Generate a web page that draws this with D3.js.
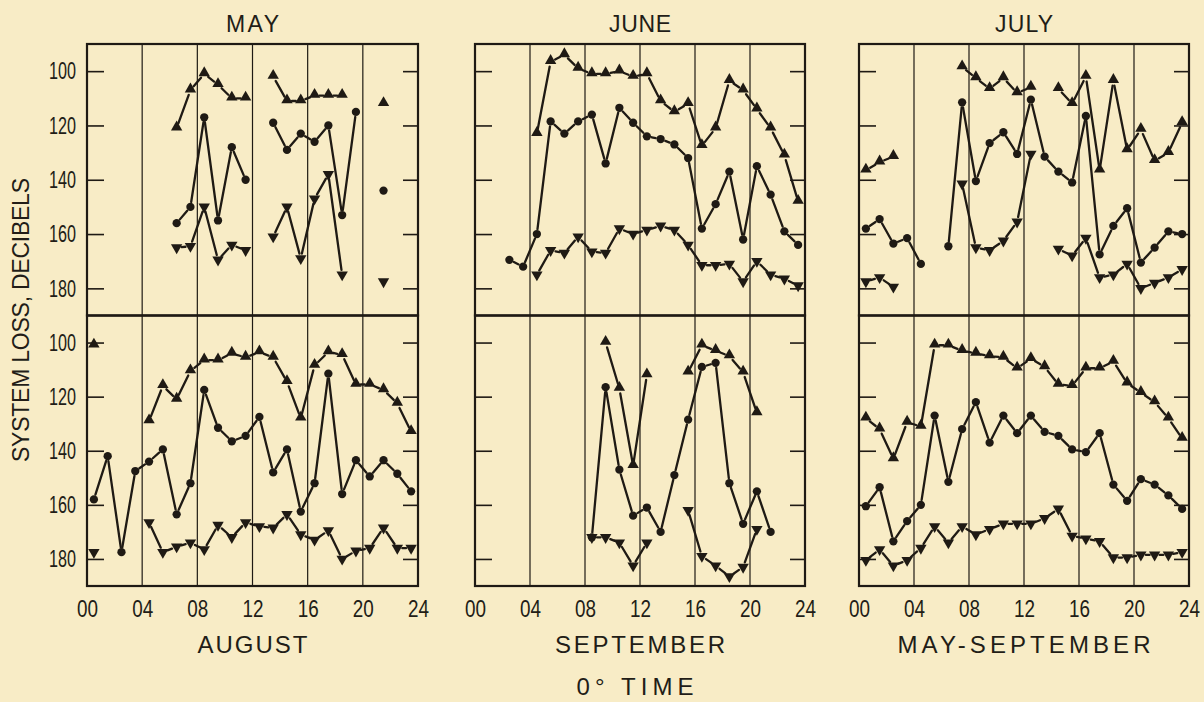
<!DOCTYPE html>
<html>
<head>
<meta charset="utf-8">
<script src="https://cdn.jsdelivr.net/npm/d3@7"></script>
<style>
  body { margin: 0; background: #f8ecc6; }
  text { font-family: 'Liberation Sans', Arial, sans-serif; fill: #221d17; }
</style>
</head>
<body>
<div class="result"></div>
<script>
// Hour of day for each reading (half-hour centres, 0° time)
const hours = [0.5, 1.5, 2.5, 3.5, 4.5, 5.5, 6.5, 7.5, 8.5, 9.5, 10.5, 11.5,
  12.5, 13.5, 14.5, 15.5, 16.5, 17.5, 18.5, 19.5, 20.5, 21.5, 22.5, 23.5];

// Axis ticks
const yTicks = [100, 120, 140, 160, 180];
const xTicks = [0, 4, 8, 12, 16, 20, 24];
const xTickLabels = ['00', '04', '08', '12', '16', '20', '24'];
const gridHours = [4, 8, 12, 16, 20];

// Panel titles
const topTitles = ['MAY', 'JUNE', 'JULY'];
const bottomTitles = ['AUGUST', 'SEPTEMBER', 'MAY-SEPTEMBER'];

// System loss, dB  (up = ▲, mid = ●, low = ▼), null = no reading
const mayUp = [null, null, null, null, null, null, 121, 107, 101, 105, 110, 110, null, 102, 111, 111, 109, 109, 109, null, null, 112, null, null];
const mayMid = [null, null, null, null, null, null, 156, 150, 117, 155, 128, 140, null, 119, 129, 123, 126, 120, 153, 115, null, 144, null, null];
const mayLow = [null, null, null, null, null, null, 165, 164.5, 150, 169.5, 164, 166, null, 161, 150, 169, 147, 138, 175, null, null, 177.5, null, null];

const juneUp = [null, null, null, null, 123, 96.5, 94, 99, 101, 101, 100, 102, 101, 111, 115, 112, 127.5, 121, 103.5, 107, 114, 121, 131, 148];
const juneMid = [null, null, 169.5, 172, 160, 118.5, 123, 118.5, 116, 134, 113.5, 119, 124, 125, 127, 132, 158, 149, 137, 162, 135, 145.5, 159, 164];
const juneLow = [null, null, null, null, 175, 166, 167, 161, 166.5, 167, 158, 160, 158.5, 157, 158.5, 164, 171.5, 171.5, 171, 177.5, 170, 175, 176.5, 179];

const julyUp = [136.5, 133.5, 131.5, null, null, null, null, 98.5, 102.5, 106.5, 102.5, 108, 106, null, 106.5, 112, 102, 136.5, 103.5, 129, 121.5, 133, 130, 119];
const julyMid = [158, 154.5, 163.5, 161.5, 171, null, 164.5, 111.5, 140.5, 126.5, 122.5, 130.5, 110.5, 131.5, 137, 141, 116.5, 167.5, 157, 150.5, 170.5, 165, 159, 160];
const julyLow = [177.5, 176, 179.5, null, null, null, null, 141.5, 165, 166, 162.5, 155.5, 130.5, null, 165.5, 168, 161.5, 176, 175, 171, 180, 178, 176, 173];

const augUp = [101, null, null, null, 129, 116, 121, 110.5, 106.5, 106.5, 104, 105.5, 103.5, 105.5, 114.5, 128, 108.5, 103.5, 104.5, 115.5, 115.5, 117.5, 122.5, 133];
const augMid = [158, 142, 177.5, 147.5, 144, 139.5, 163.5, 152, 117.5, 131.5, 136.5, 134.5, 127.5, 148, 139.5, 162.5, 152, 111.5, 156, 143.5, 149.5, 143.5, 148.5, 155];
const augLow = [177.5, null, null, null, 166.5, 177.5, 175.5, 174, 176.5, 167.5, 172, 166.5, 168, 168.5, 163.5, 171, 173, 169.5, 180, 177, 176, 168.5, 176, 176];

const sepUp = [null, null, null, null, null, null, null, null, null, 100, 117, 145.5, 112, null, null, 111, 101, 103, 105, 111, 126, null, null, null];
const sepMid = [null, null, null, null, null, null, null, null, 172, 116.5, 147, 164, 161, 170, 149, 128.5, 109, 107.5, 152, 167, 155, 170, null, null];
const sepLow = [null, null, null, null, null, null, null, null, 172, 172, 174, 182.5, 174, null, null, 162, 179, 182.5, 186.5, 183, 169, null, null, null];

const allUp = [128, 132, 143, 129.5, 131, 101, 101, 103, 104, 105, 105.5, 109.5, 106, 109, 115.5, 116, 109.5, 109.5, 107, 115, 118.5, 122, 128, 135.5];
const allMid = [160.5, 153.5, 173.5, 166, 160, 127, 151.5, 132, 122, 137, 127, 133.5, 127, 133, 134.5, 139.5, 140.5, 133.5, 152.5, 158.5, 150.5, 152.5, 156.5, 161.5];
const allLow = [180.5, 176.5, 182.5, 180.5, 176, 168, 174, 168, 171, 169, 167, 167, 167, 165, 161.5, 171.5, 172.5, 173.5, 179.5, 179.5, 178.5, 178.5, 178.5, 177.5];

// Layout
const w = 1204;
const h = 702;
const ink = '#1f1a14';
const colX = [[87, 418], [475, 805], [859, 1189]];
const rowY = [[44, 315.5], [315.5, 586]];
const gap = 5;   // blank space left round each marker

const panels = [
  { row: 0, col: 0, series: [mayUp, mayMid, mayLow] },
  { row: 0, col: 1, series: [juneUp, juneMid, juneLow] },
  { row: 0, col: 2, series: [julyUp, julyMid, julyLow] },
  { row: 1, col: 0, series: [augUp, augMid, augLow] },
  { row: 1, col: 1, series: [sepUp, sepMid, sepLow] },
  { row: 1, col: 2, series: [allUp, allMid, allLow] }
];

// Create SVG element
const svg = d3.select('.result')
  .append('svg')
  .attr('width', w)
  .attr('height', h);

svg.append('rect').attr('width', w).attr('height', h).attr('fill', '#f8ecc6');

// Marker shapes
const upTri = d3.symbol().type(d3.symbolTriangle).size(56)();
const circ = d3.symbol().type(d3.symbolCircle).size(54)();

function drawSeries(g, values, x, y, kind) {
  const pts = [];
  values.forEach(function (v, i) {
    if (v !== null) pts.push({ i: i, h: hours[i], v: v });
  });
  const segs = [];
  for (let k = 1; k < pts.length; k++) {
    if (pts[k].i - pts[k - 1].i === 1) segs.push([pts[k - 1], pts[k]]);
  }

  // Connecting strokes, stopped short of the markers
  g.selectAll(null)
    .data(segs)
    .enter()
    .append('line')
    .each(function (s) {
      const x1 = x(s[0].h), y1 = y(s[0].v);
      const x2 = x(s[1].h), y2 = y(s[1].v);
      const len = Math.hypot(x2 - x1, y2 - y1);
      const ux = (x2 - x1) / len, uy = (y2 - y1) / len;
      const sel = d3.select(this);
      if (len < 2 * gap + 1) { sel.remove(); return; }
      sel.attr('x1', x1 + ux * gap).attr('y1', y1 + uy * gap)
        .attr('x2', x2 - ux * gap).attr('y2', y2 - uy * gap);
    })
    .attr('stroke', ink)
    .attr('stroke-width', 2.3)
    .attr('stroke-linecap', 'round');

  // Markers
  g.selectAll(null)
    .data(pts)
    .enter()
    .append('path')
    .attr('d', kind === 'mid' ? circ : upTri)
    .attr('transform', function (d) {
      const t = 'translate(' + x(d.h) + ',' + y(d.v) + ')';
      if (kind === 'low') return t + ' rotate(180)';
      if (kind === 'up') return t + ' translate(0,-1)';
      return t;
    })
    .attr('fill', ink);
}

panels.forEach(function (p) {
  const xr = colX[p.col];
  const yr = rowY[p.row];

  // Create scale functions
  const x = d3.scaleLinear().domain([0, 24]).range(xr);
  const y = d3.scaleLinear().domain([90, 190]).range(yr);

  const g = svg.append('g');

  // Vertical time grid
  g.selectAll(null)
    .data(gridHours)
    .enter()
    .append('line')
    .attr('x1', function (d) { return x(d); })
    .attr('x2', function (d) { return x(d); })
    .attr('y1', yr[0])
    .attr('y2', yr[1])
    .attr('stroke', ink)
    .attr('stroke-width', 1.2);

  // Y ticks on both sides, pointing inward
  const yAxisL = g.append('g')
    .attr('transform', 'translate(' + xr[0] + ',0)')
    .call(d3.axisLeft(y).tickValues(yTicks).tickSizeInner(-17).tickSizeOuter(0).tickPadding(11));
  const yAxisR = g.append('g')
    .attr('transform', 'translate(' + xr[1] + ',0)')
    .call(d3.axisRight(y).tickValues(yTicks).tickSizeInner(-15).tickSizeOuter(0).tickFormat(''));
  [yAxisL, yAxisR].forEach(function (a) {
    a.select('.domain').remove();
    a.selectAll('line').attr('stroke', ink).attr('stroke-width', 1.6);
  });
  if (p.col === 0) {
    yAxisL.selectAll('text')
      .attr('font-size', 24)
      .attr('textLength', 27)
      .attr('lengthAdjust', 'spacingAndGlyphs')
      .attr('fill', ink)
      .style('font-family', "'Liberation Sans Narrow', 'Liberation Sans', Arial, sans-serif");
  } else {
    yAxisL.selectAll('text').remove();
  }

  // X axis labels under the bottom row
  if (p.row === 1) {
    const xAxis = g.append('g')
      .attr('transform', 'translate(0,' + yr[1] + ')')
      .call(d3.axisBottom(x).tickValues(xTicks).tickSize(0).tickPadding(15)
        .tickFormat(function (d, i) { return xTickLabels[i]; }));
    xAxis.select('.domain').remove();
    xAxis.selectAll('text')
      .attr('font-size', 23)
      .attr('textLength', 21)
      .attr('lengthAdjust', 'spacingAndGlyphs')
      .attr('fill', ink)
      .style('font-family', "'Liberation Sans Narrow', 'Liberation Sans', Arial, sans-serif");
  }

  // Data
  drawSeries(g, p.series[0], x, y, 'up');
  drawSeries(g, p.series[1], x, y, 'mid');
  drawSeries(g, p.series[2], x, y, 'low');

  // Panel frame
  g.append('rect')
    .attr('x', xr[0])
    .attr('y', yr[0])
    .attr('width', xr[1] - xr[0])
    .attr('height', yr[1] - yr[0])
    .attr('fill', 'none')
    .attr('stroke', ink)
    .attr('stroke-width', 2.2);
});

// Month titles
const centres = colX.map(function (c) { return (c[0] + c[1]) / 2; });
const topLen = [53, 62, 58];
const botLen = [110, 170, 253];

svg.selectAll(null)
  .data(topTitles)
  .enter()
  .append('text')
  .attr('x', function (d, i) { return centres[i]; })
  .attr('y', 31.5)
  .attr('text-anchor', 'middle')
  .attr('font-size', 23)
  .attr('textLength', function (d, i) { return topLen[i]; })
  .attr('lengthAdjust', 'spacing')
  .text(function (d) { return d; });

svg.selectAll(null)
  .data(bottomTitles)
  .enter()
  .append('text')
  .attr('x', function (d, i) { return centres[i]; })
  .attr('y', 652.5)
  .attr('text-anchor', 'middle')
  .attr('font-size', 24)
  .attr('textLength', function (d, i) { return botLen[i]; })
  .attr('lengthAdjust', 'spacing')
  .text(function (d) { return d; });

// Axis titles
svg.append('text')
  .attr('x', 635)
  .attr('y', 695)
  .attr('text-anchor', 'middle')
  .attr('font-size', 24)
  .attr('textLength', 117)
  .attr('lengthAdjust', 'spacing')
  .text('0° TIME');

svg.append('text')
  .attr('transform', 'translate(29,320) rotate(-90)')
  .attr('text-anchor', 'middle')
  .attr('font-size', 23)
  .attr('textLength', 284)
  .attr('lengthAdjust', 'spacing')
  .text('SYSTEM LOSS, DECIBELS');
</script>
</body>
</html>
